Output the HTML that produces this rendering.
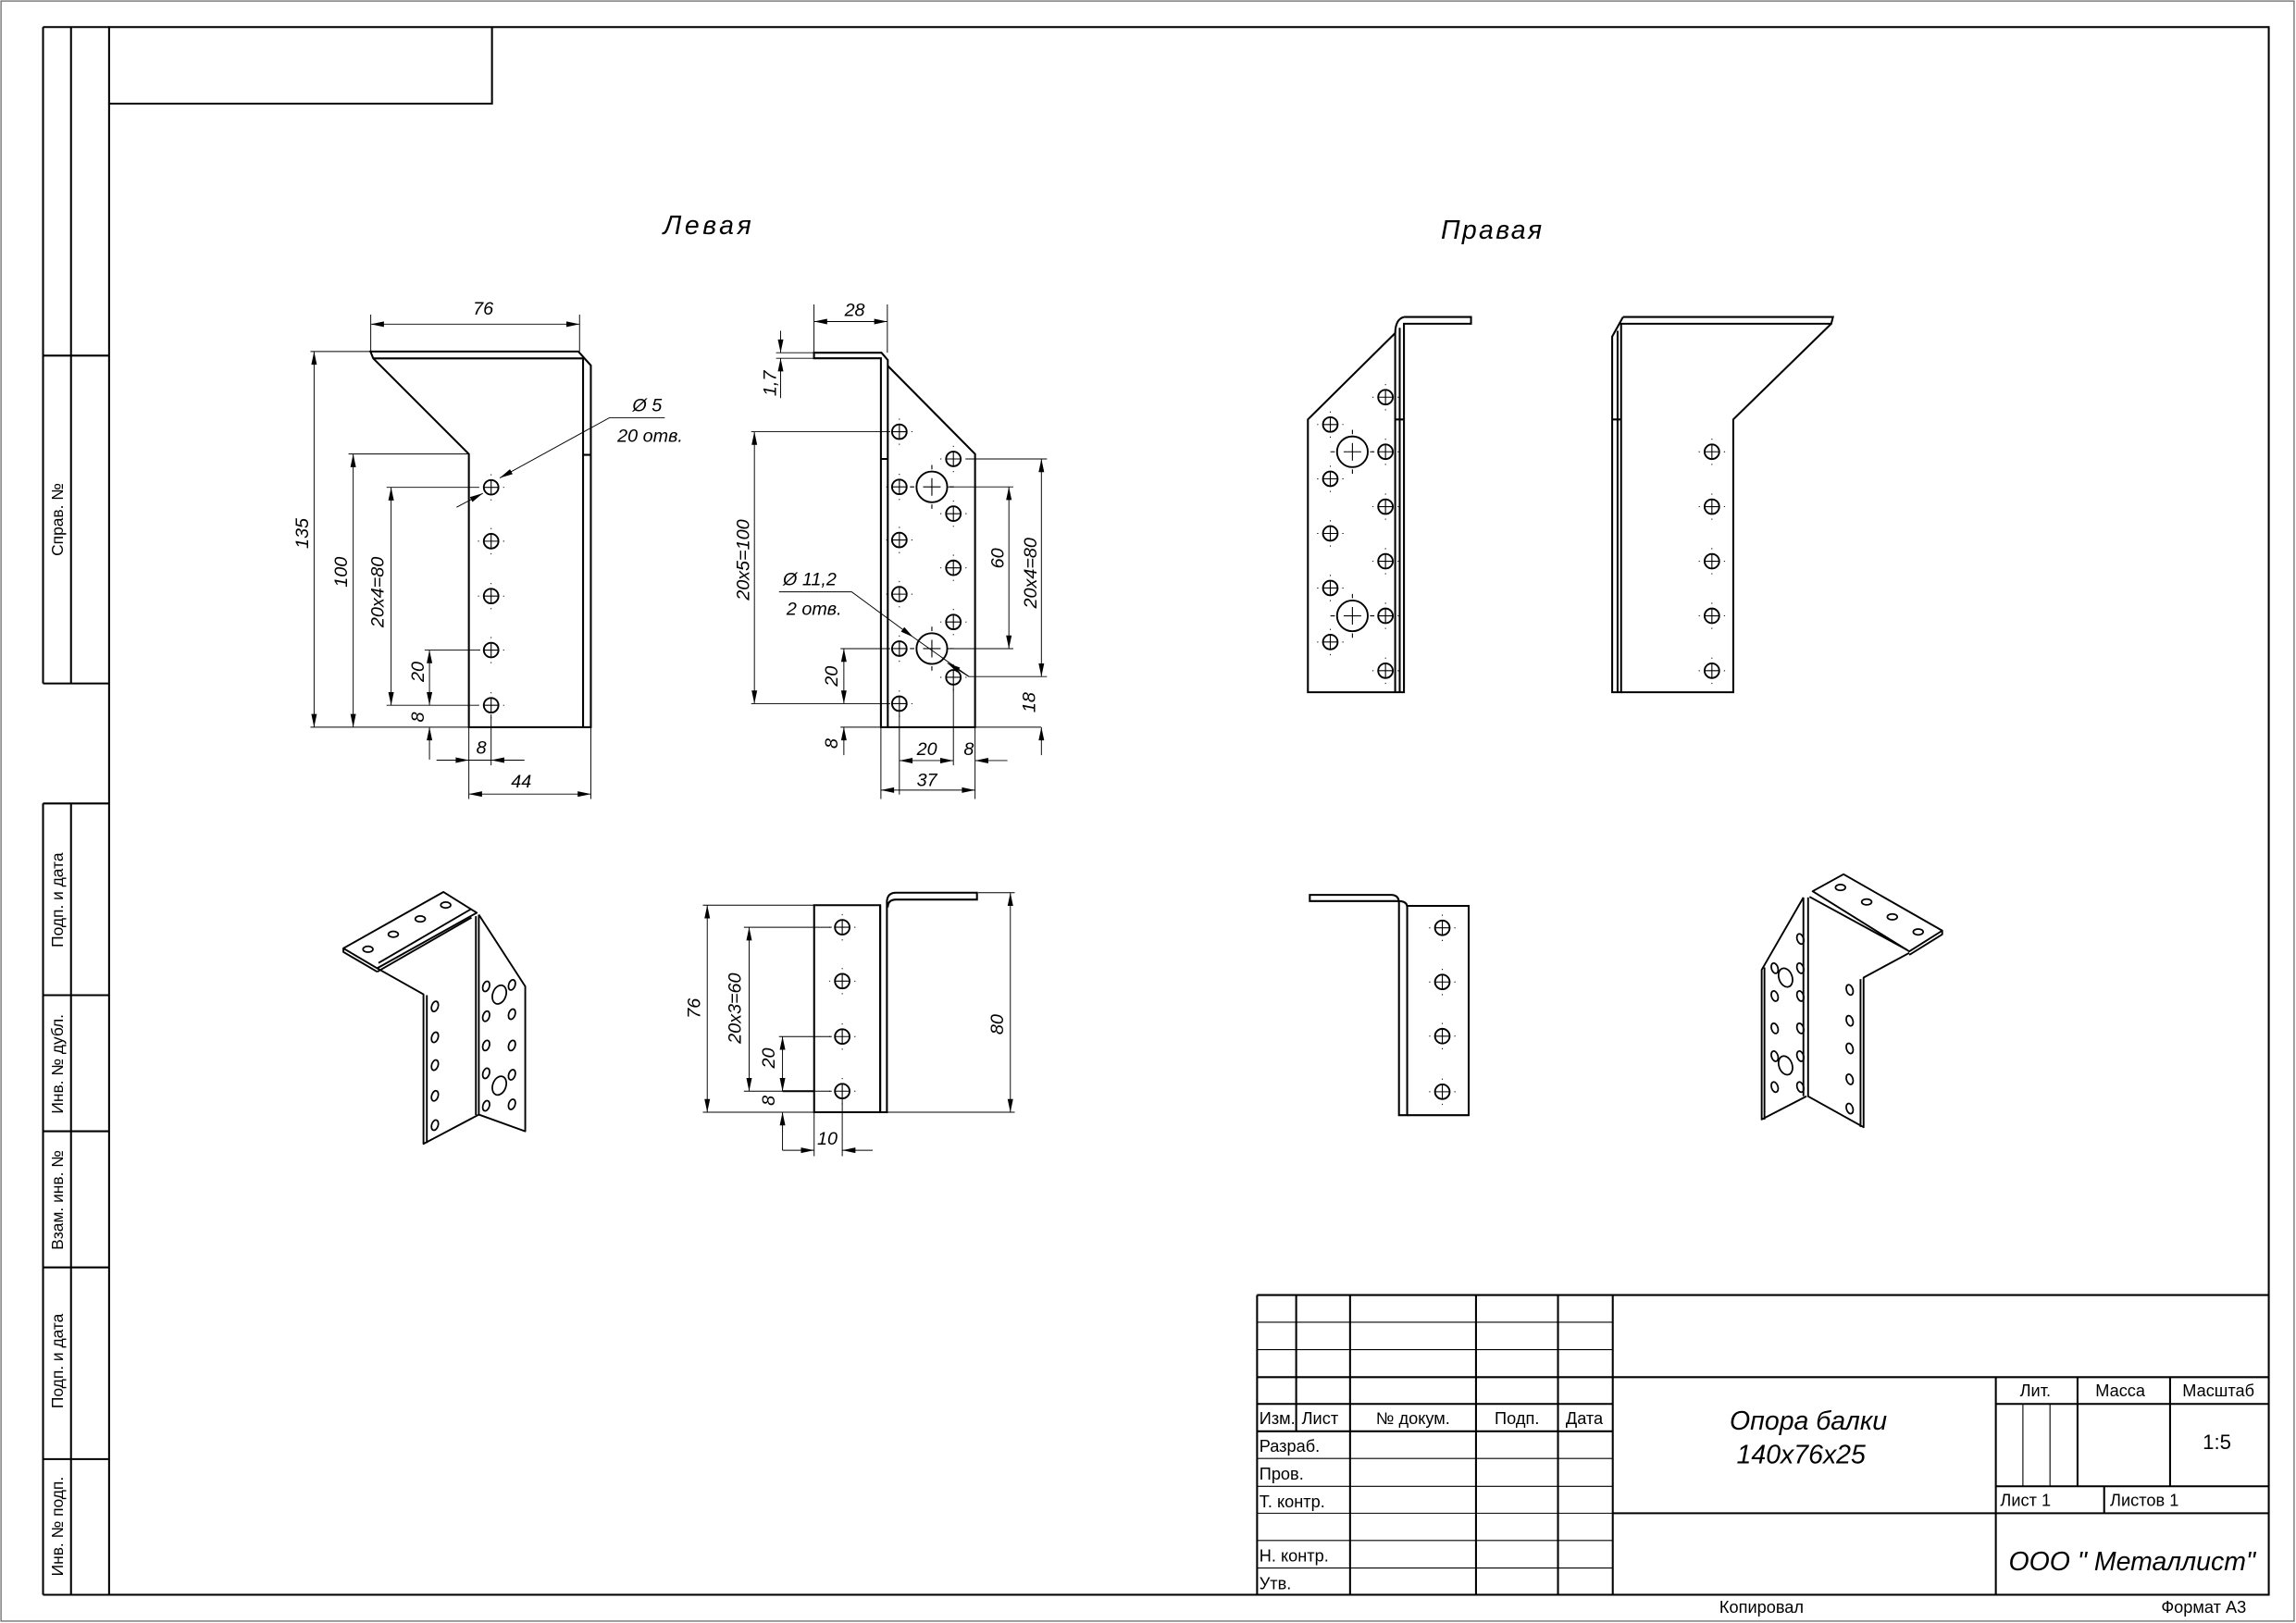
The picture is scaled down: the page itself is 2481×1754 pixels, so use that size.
<!DOCTYPE html>
<html><head><meta charset="utf-8"><style>
html,body{margin:0;padding:0;background:#fff;}
svg{display:block;}
.t{font-family:"Liberation Sans",sans-serif;font-style:italic;fill:#000;}
.n{font-family:"Liberation Sans Narrow","Liberation Sans",sans-serif;fill:#000;}
</style></head><body>
<svg width="2481" height="1754" viewBox="0 0 1568 1109" preserveAspectRatio="none" xmlns="http://www.w3.org/2000/svg">
<defs>
<marker id="a" markerUnits="userSpaceOnUse" markerWidth="12" markerHeight="6" refX="0" refY="0" viewBox="-10 -3 12 6" orient="auto-start-reverse" overflow="visible">
<path d="M0,0 L-9,-1.9 L-9,1.9 Z" fill="#000"/></marker>
<g id="h"><circle r="5" fill="none" stroke="#000" stroke-width="1.2"/><path d="M-5,0H5M0,-5V5" stroke="#000" stroke-width="0.7"/><path d="M-9,0h0.8M8.2,0h0.8M0,-9v0.8M0,8.2v0.8" stroke="#000" stroke-width="0.6"/></g>
<g id="H"><circle r="10.5" fill="none" stroke="#000" stroke-width="1.2"/><path d="M-6,0H6M0,-6V6M-15,0h3M12,0h3M0,-15v3M0,12v3" stroke="#000" stroke-width="0.7"/></g>
<ellipse id="e" rx="2.2" ry="3.6" transform="rotate(18)" fill="none" stroke="#000" stroke-width="1.1"/>
<ellipse id="E" rx="4.5" ry="6.6" transform="rotate(20)" fill="none" stroke="#000" stroke-width="1.1"/>
<ellipse id="e2" rx="2.2" ry="3.6" transform="rotate(-18)" fill="none" stroke="#000" stroke-width="1.1"/>
<ellipse id="E2" rx="4.5" ry="6.6" transform="rotate(-20)" fill="none" stroke="#000" stroke-width="1.1"/>
<ellipse id="f" rx="3.4" ry="2" fill="none" stroke="#000" stroke-width="1.1"/>
</defs>
<rect x="0" y="0" width="1568" height="1109" fill="#fff"/>
<rect x="0.7" y="0.7" width="1566" height="1107" fill="none" stroke="#666" stroke-width="0.8"/>
<g stroke="#000" stroke-width="1.3" fill="none">
<rect x="74.5" y="18.5" width="1474.9" height="1071.2"/>
<path d="M29.4,18.5V467M48.5,18.5V467M29.4,18.5H74.5M29.4,243H74.5M29.4,467H74.5"/>
<path d="M29.4,549V1089.7M48.5,549V1089.7M29.4,549H74.5M29.4,680H74.5M29.4,773H74.5M29.4,866H74.5M29.4,997H74.5M29.4,1089.7H74.5"/>
<path d="M74.5,70.8H336V18.5"/>
</g>
<g class="n" font-size="11" text-anchor="middle">
<text transform="translate(43,355) rotate(-90)">Справ. №</text>
<text transform="translate(43,615) rotate(-90)">Подп. и дата</text>
<text transform="translate(43,727) rotate(-90)">Инв. № дубл.</text>
<text transform="translate(43,820) rotate(-90)">Взам. инв. №</text>
<text transform="translate(43,930) rotate(-90)">Подп. и дата</text>
<text transform="translate(43,1043) rotate(-90)">Инв. № подп.</text>
</g>

<text class="t" x="453" y="160" font-size="18" textLength="60">Левая</text>
<text class="t" x="984" y="163" font-size="18" textLength="69">Правая</text>

<!-- VIEW 1 -->
<g stroke="#000" stroke-width="1.3" fill="none">
<path d="M253,240.2H395L403.5,249.7V496.9H320.2V310.2L254.9,244.9L253,240.2Z"/>
<path d="M254.9,244.9H398.2V496.9M398.2,310.8H403.5"/>
</g>
<use href="#h" x="335.4" y="333"/><use href="#h" x="335.4" y="369.8"/><use href="#h" x="335.4" y="407.3"/><use href="#h" x="335.4" y="444.2"/><use href="#h" x="335.4" y="481.9"/>
<g stroke="#000" stroke-width="0.6" fill="none">
<path d="M253.2,240V215M395.8,240V215"/>
<path d="M253.2,221.5H395.8" marker-start="url(#a)" marker-end="url(#a)"/>
<path d="M212,240.2H253M212,496.9H320"/>
<path d="M214.5,240.2V496.9" marker-start="url(#a)" marker-end="url(#a)"/>
<path d="M238,310.2H320"/>
<path d="M241.2,310.2V496.9" marker-start="url(#a)" marker-end="url(#a)"/>
<path d="M264,333H327M264,481.9H327"/>
<path d="M267.1,333V481.9" marker-start="url(#a)" marker-end="url(#a)"/>
<path d="M290,444.2H328"/>
<path d="M293.3,444.2V481.9" marker-start="url(#a)" marker-end="url(#a)"/>
<path d="M293.3,519V496.9" marker-end="url(#a)"/>
<path d="M298.1,519.4H320.2" marker-end="url(#a)"/><path d="M358.2,519.4H335.4" marker-end="url(#a)"/><path d="M320.2,519.4H335.4"/>
<path d="M335.4,488V523M320.2,497V546M403.5,497V546"/>
<path d="M320.2,542.6H403.5" marker-start="url(#a)" marker-end="url(#a)"/>
<path d="M454,285.5H416.1L341.3,326.6" marker-end="url(#a)"/>
<path d="M311.8,346.6L329.7,337.1" marker-end="url(#a)"/>
</g>
<g class="t" font-size="12.5" text-anchor="middle">
<text x="330" y="215">76</text>
<text transform="translate(210.5,364.5) rotate(-90)">135</text>
<text transform="translate(237,390.9) rotate(-90)">100</text>
<text transform="translate(262,404.6) rotate(-90)">20x4=80</text>
<text transform="translate(289.5,459) rotate(-90)">20</text>
<text transform="translate(289.5,490) rotate(-90)">8</text>
<text x="328.7" y="515">8</text>
<text x="356" y="538">44</text>
<text x="442" y="281">Ø 5</text>
<text x="444" y="302">20  отв.</text>
</g>

<!-- VIEW 2 -->
<g stroke="#000" stroke-width="1.3" fill="none">
<path d="M555.9,241H602L606.3,246V496.9H601.6V244.8H555.9Z"/>
<path d="M606.3,250L665.9,310.2V496.9H606.3M601.6,313.6H606.3"/>
</g>
<use href="#h" x="614.2" y="295"/><use href="#h" x="614.2" y="332.7"/><use href="#h" x="614.2" y="369"/><use href="#h" x="614.2" y="406"/><use href="#h" x="614.2" y="443.2"/><use href="#h" x="614.2" y="480.8"/>
<use href="#h" x="651.1" y="313.6"/><use href="#h" x="651.1" y="351"/><use href="#h" x="651.1" y="388"/><use href="#h" x="651.1" y="425"/><use href="#h" x="651.1" y="462.8"/>
<use href="#H" x="636.4" y="332.7"/><use href="#H" x="636.4" y="443.2"/>
<g stroke="#000" stroke-width="0.6" fill="none">
<path d="M555.9,241V208M606,241V208"/>
<path d="M555.9,219.7H606" marker-start="url(#a)" marker-end="url(#a)"/>
<path d="M530,241H556M530,244.8H556"/>
<path d="M533.1,226V241" marker-end="url(#a)"/><path d="M533.1,272V244.8" marker-end="url(#a)"/>
<path d="M513,295H608M513,480.8H608"/>
<path d="M515.2,295V480.8" marker-start="url(#a)" marker-end="url(#a)"/>
<path d="M574,443.2H608M574,496.9H711"/>
<path d="M576.3,443.2V480.8" marker-start="url(#a)" marker-end="url(#a)"/>
<path d="M576.3,516V496.9" marker-end="url(#a)"/>
<path d="M647,332.7H692M647,443.2H692"/>
<path d="M689,332.7V443.2" marker-start="url(#a)" marker-end="url(#a)"/>
<path d="M660,313.6H715M661.7,462.3H715"/>
<path d="M711.2,313.6V462.3" marker-start="url(#a)" marker-end="url(#a)"/>
<path d="M711.2,516V496.9" marker-end="url(#a)"/>
<path d="M614.2,486V543M651.1,468V523M665.9,497V546M601.6,497V546"/>
<path d="M614.2,519.7H651.1" marker-start="url(#a)" marker-end="url(#a)"/>
<path d="M688,519.7H665.9" marker-end="url(#a)"/>
<path d="M601.6,539.9H665.9" marker-start="url(#a)" marker-end="url(#a)"/>
<path d="M532,404.4H581.6L623.7,435.4" marker-end="url(#a)"/>
<path d="M623.7,435.4L661.7,462.3"/>
<path d="M661.7,462.3L647,453" marker-end="url(#a)"/>
</g>
<g class="t" font-size="12.5" text-anchor="middle">
<text x="583.7" y="216">28</text>
<text transform="translate(530,262) rotate(-90)">1,7</text>
<text transform="translate(511.5,382.6) rotate(-90)">20x5=100</text>
<text transform="translate(572,462) rotate(-90)">20</text>
<text transform="translate(572,508) rotate(-90)">8</text>
<text transform="translate(685.5,381.5) rotate(-90)">60</text>
<text transform="translate(708,391.6) rotate(-90)">20x4=80</text>
<text transform="translate(707,480) rotate(-90)">18</text>
<text x="633" y="516">20</text>
<text x="661.6" y="516">8</text>
<text x="633" y="537">37</text>
<text x="553" y="400">Ø 11,2</text>
<text x="556" y="420">2  отв.</text>
</g>

<!-- VIEW 3 -->
<g stroke="#000" stroke-width="1.3" fill="none">
<path d="M958.8,216.6H1004.6V221.2H958.8V473H952.8V227.6L893.2,286.6V473H952.8"/>
<path d="M955.9,224V473M952.8,227.6Q953,218 958.8,216.6M952.8,286.6H958.8"/>
</g>
<use href="#h" x="946.2" y="271.4"/><use href="#h" x="946.2" y="308.7"/><use href="#h" x="946.2" y="346.2"/><use href="#h" x="946.2" y="383.5"/><use href="#h" x="946.2" y="420.8"/><use href="#h" x="946.2" y="458.3"/>
<use href="#h" x="908.5" y="290.1"/><use href="#h" x="908.5" y="327.2"/><use href="#h" x="908.5" y="364.5"/><use href="#h" x="908.5" y="401.8"/><use href="#h" x="908.5" y="438.7"/>
<use href="#H" x="923.6" y="308.7"/><use href="#H" x="923.6" y="420.8"/>

<!-- VIEW 4 -->
<g stroke="#000" stroke-width="1.3" fill="none">
<path d="M1108.4,216.6H1251.8L1250.6,221.2H1107.1V473H1101V230L1108.4,216.6"/>
<path d="M1250.6,221.2L1183.7,286.6V473H1107.1M1104.7,226V473M1101,286.6H1107.1"/>
</g>
<use href="#h" x="1169.1" y="308.7"/><use href="#h" x="1169.1" y="346.2"/><use href="#h" x="1169.1" y="383.5"/><use href="#h" x="1169.1" y="420.8"/><use href="#h" x="1169.1" y="458.3"/>

<!-- VIEW 5 iso -->
<g stroke="#000" stroke-width="1.2" fill="none" stroke-linejoin="round">
<path d="M234.5,648L302.8,609.5L325.6,623.7L257.6,661.6Z"/>
<path d="M234.5,648V650.5L257.6,664M257.6,664L322,627M258.5,658L322,621"/>
<path d="M257.6,661.6L289.2,679.4V781.6L327,761.6V625"/>
<path d="M291.5,680V781"/>
<path d="M327,625L358.7,674V773L327,761.6M325,626V762"/>
</g>
<use href="#f" x="251.3" y="648.6"/><use href="#f" x="268.6" y="638.4"/><use href="#f" x="287" y="627.9"/><use href="#f" x="304.4" y="618.4"/>
<use href="#e" x="297" y="687.7"/><use href="#e" x="297" y="708.8"/><use href="#e" x="297" y="727.8"/><use href="#e" x="297" y="748.8"/><use href="#e" x="297" y="768.8"/>
<use href="#e" x="332" y="674"/><use href="#e" x="332" y="694.4"/><use href="#e" x="332" y="714.4"/><use href="#e" x="332" y="733.4"/><use href="#e" x="332" y="755.6"/>
<use href="#e" x="349.6" y="673"/><use href="#e" x="349.6" y="693"/><use href="#e" x="349.6" y="714.4"/><use href="#e" x="349.6" y="734.4"/><use href="#e" x="349.6" y="754.6"/>
<use href="#E" x="341" y="679.6"/><use href="#E" x="341" y="741.8"/>

<!-- VIEW 6 -->
<g stroke="#000" stroke-width="1.3" fill="none">
<path d="M556,618.5H601.1V760H556Z"/>
<path d="M601.1,618.5V760H605.7V616Q606,610 612,610H667.2V614.7H612Q606.3,614.7 606.3,620"/>
</g>
<use href="#h" x="575.2" y="633.6"/><use href="#h" x="575.2" y="670.4"/><use href="#h" x="575.2" y="708.3"/><use href="#h" x="575.2" y="745.6"/>
<g stroke="#000" stroke-width="0.6" fill="none">
<path d="M480,618.5H556M480,760H556M606,760H693M668,610H693"/>
<path d="M483,618.5V760" marker-start="url(#a)" marker-end="url(#a)"/>
<path d="M508,633.6H568M508,745.6H568"/>
<path d="M511.6,633.6V745.6" marker-start="url(#a)" marker-end="url(#a)"/>
<path d="M532,708.3H568"/>
<path d="M534.4,708.3V745.6" marker-start="url(#a)" marker-end="url(#a)"/>
<path d="M534.4,786V760" marker-end="url(#a)"/>
<path d="M690,610V760" marker-start="url(#a)" marker-end="url(#a)"/>
<path d="M556,760V790M575.2,750V790"/>
<path d="M534.4,786H556" marker-end="url(#a)"/><path d="M596,786H575.2" marker-end="url(#a)"/>
</g>
<path d="M534.4,745.6H556" stroke="#000" stroke-width="1.2"/>
<g class="t" font-size="12.5" text-anchor="middle">
<text transform="translate(478,689) rotate(-90)">76</text>
<text transform="translate(506,689) rotate(-90)">20x3=60</text>
<text transform="translate(529,723) rotate(-90)">20</text>
<text transform="translate(529,752) rotate(-90)">8</text>
<text transform="translate(685,700) rotate(-90)">80</text>
<text x="565" y="782">10</text>
</g>

<!-- VIEW 7 -->
<g stroke="#000" stroke-width="1.3" fill="none">
<path d="M894.5,611.5H950Q955.4,611.5 955.4,617V762H961V620Q961,615.7 955,615.7H894.5Z"/>
<path d="M961,619H1003V762H961"/>
</g>
<use href="#h" x="985" y="634"/><use href="#h" x="985" y="671"/><use href="#h" x="985" y="708"/><use href="#h" x="985" y="746"/>

<!-- VIEW 8 iso -->
<g stroke="#000" stroke-width="1.2" fill="none" stroke-linejoin="round">
<path d="M1237.9,609L1259,597.4L1326.4,635.9L1303.9,650.1Z"/>
<path d="M1326.4,635.9V638.5L1303.9,652.5M1235.8,612.8L1302.2,649"/>
<path d="M1234.8,613.2V749.1L1272.7,770.2V668L1303.9,651.1M1270.6,669V770"/>
<path d="M1231.6,613.2L1203.1,662.7V764.9L1233.7,749.1M1205,661V765M1231.6,613.2V749"/>
</g>
<use href="#f" x="1256.9" y="606.4"/><use href="#f" x="1274.8" y="616.3"/><use href="#f" x="1292.3" y="626.5"/><use href="#f" x="1310" y="636.8"/>
<use href="#e2" x="1263.2" y="676.4"/><use href="#e2" x="1263.2" y="697.5"/><use href="#e2" x="1263.2" y="716.4"/><use href="#e2" x="1263.2" y="737.5"/><use href="#e2" x="1263.2" y="757.5"/>
<use href="#e2" x="1212" y="661.6"/><use href="#e2" x="1212" y="680.6"/><use href="#e2" x="1212" y="702.7"/><use href="#e2" x="1212" y="721.7"/><use href="#e2" x="1212" y="742.8"/>
<use href="#e2" x="1229.5" y="641.6"/><use href="#e2" x="1229.5" y="661.6"/><use href="#e2" x="1229.5" y="680.6"/><use href="#e2" x="1229.5" y="702.7"/><use href="#e2" x="1229.5" y="721.7"/><use href="#e2" x="1229.5" y="742.8"/>
<use href="#E2" x="1219.4" y="668"/><use href="#E2" x="1219.4" y="728"/>

<!-- TITLE BLOCK -->
<g stroke="#000" stroke-width="1.3" fill="none">
<path d="M858.5,884.9H1549.4M858.5,884.9V1089.7"/>
<path d="M885.2,884.9V978M922,884.9V1089.7M1008,884.9V1089.7M1064,884.9V1089.7M1101.4,884.9V1089.7"/>
<path d="M858.5,941H1549.4M858.5,959.3H1101.4M858.5,978H1101.4M1101.4,1034H1549.4"/>
<path d="M1363,941V1089.7M1418.8,941V1015.6M1482,941V1015.6M1363,959.3H1549.4M1363,1015.6H1549.4M1437,1015.6V1034"/>
</g>
<g stroke="#000" stroke-width="0.7" fill="none">
<path d="M858.5,903.5H1101.4M858.5,922.2H1101.4M858.5,996.6H1101.4M858.5,1015.6H1101.4M858.5,1034H1101.4M858.5,1052.6H1101.4M858.5,1071.4H1101.4"/>
<path d="M1381.5,959.3V1015.6M1400,959.3V1015.6"/>
</g>
<g class="n" font-size="11.5">
<text x="860" y="973">Изм.</text><text x="889" y="973">Лист</text>
<text x="965" y="973" text-anchor="middle">№ докум.</text>
<text x="1036" y="973" text-anchor="middle">Подп.</text>
<text x="1082" y="973" text-anchor="middle">Дата</text>
<text x="860" y="992">Разраб.</text>
<text x="860" y="1011">Пров.</text>
<text x="860" y="1030">Т. контр.</text>
<text x="860" y="1067">Н. контр.</text>
<text x="860" y="1086">Утв.</text>
<text x="1390" y="954" text-anchor="middle">Лит.</text>
<text x="1448" y="954" text-anchor="middle">Масса</text>
<text x="1515" y="954" text-anchor="middle">Масштаб</text>
<text x="1514" y="990" text-anchor="middle" font-size="14">1:5</text>
<text x="1366" y="1029">Лист 1</text>
<text x="1441" y="1029">Листов 1</text>
<text x="1203" y="1102" text-anchor="middle">Копировал</text>
<text x="1505" y="1102" text-anchor="middle">Формат А3</text>
</g>
<g class="t" font-size="18" text-anchor="middle">
<text x="1235" y="977">Опора  балки</text>
<text x="1230" y="1000">140x76x25</text>
<text x="1456" y="1073">ООО " Металлист"</text>
</g>
</svg>
</body></html>
